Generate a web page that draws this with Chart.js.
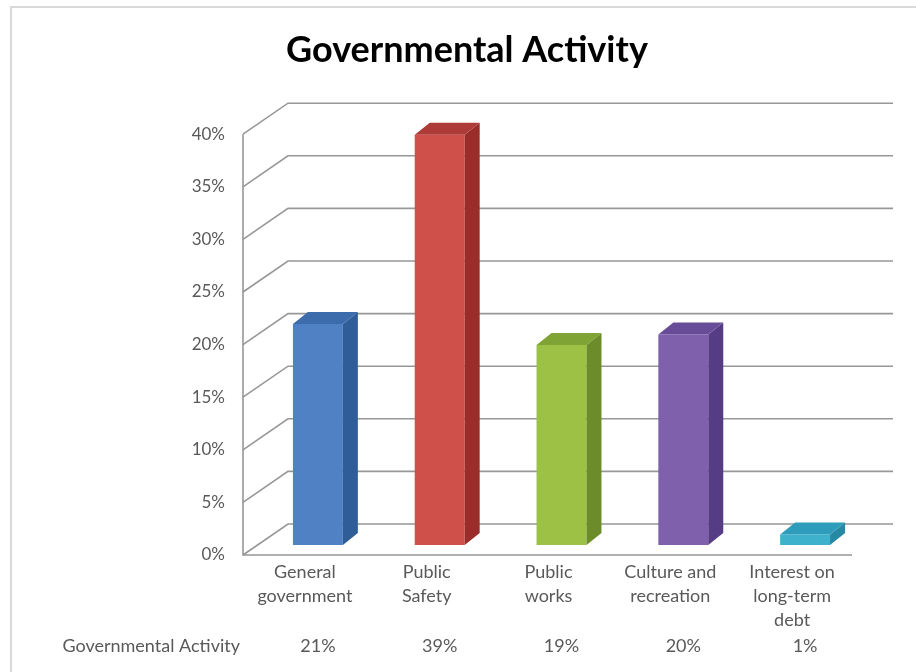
<!DOCTYPE html>
<html>
<head>
<meta charset="utf-8">
<script src="https://cdn.jsdelivr.net/npm/chart.js@4/dist/chart.umd.min.js"></script>
<style>
    body { margin: 0; background: #fff; }
    #frame { position: absolute; left: 10px; top: 6px; width: 930px; height: 700px; border: 2px solid #d9d9d9; }
    #chart { position: absolute; left: 0; top: 0; }
</style>
</head>
<body>
<div id="frame"></div>
<canvas id="chart" width="916" height="672"></canvas>
<script>
/* ---------- Data ---------- */
const categories = [
    ["General", "government"],
    ["Public", "Safety"],
    ["Public", "works"],
    ["Culture and", "recreation"],
    ["Interest on", "long-term", "debt"]
];
const seriesName = "Governmental Activity";
const values = [0.21, 0.39, 0.19, 0.20, 0.01];
const tableLabels = ["21%", "39%", "19%", "20%", "1%"];

const frontColors = ["#4f81c4", "#cf4f4a", "#9dc145", "#7e60ad", "#3eb1cd"];
const sideColors = ["#2f5d98", "#9a2c29", "#6c8c2b", "#563c85", "#2688a3"];
const topColors = ["#3c6cab", "#ad3b37", "#7fa334", "#684c98", "#2d9dbb"];

const textColor = "#595959";
const gridColor = "#979797";
const fontFamily = "Lato, 'Open Sans', sans-serif";

/* ---------- 3D geometry ---------- */
const wallShift = 10;            // front wall sits below the bar base
const wallFrontX = -14;          // front wall left edge relative to chartArea.left
const depthX = 45, depthY = -31; // wall depth
const barDX = 15, barDY = -12;   // bar depth
const wallRight = 893;
const floorRight = 852;

const threeD = {
    id: "threeD",
    beforeDatasetsDraw(chart) {
        const ctx = chart.ctx;
        const y = chart.scales.y;
        const x0 = chart.chartArea.left + wallFrontX;
        ctx.save();
        ctx.strokeStyle = gridColor;
        ctx.lineWidth = 1.6;
        y.ticks.forEach(t => {
            const yf = y.getPixelForValue(t.value) + wallShift;
            ctx.beginPath();
            ctx.moveTo(x0, yf);
            ctx.lineTo(x0 + depthX, yf + depthY);
            ctx.lineTo(wallRight, yf + depthY);
            ctx.stroke();
        });
        const yTop = y.getPixelForValue(y.max) + wallShift;
        const yBot = y.getPixelForValue(0) + wallShift;
        ctx.beginPath();
        ctx.moveTo(x0, yTop);
        ctx.lineTo(x0, yBot);
        ctx.lineTo(floorRight, yBot);
        ctx.stroke();
        ctx.restore();
    },
    afterDatasetsDraw(chart) {
        const ctx = chart.ctx;
        const meta = chart.getDatasetMeta(0);
        ctx.save();
        meta.data.forEach((bar, i) => {
            const p = bar.getProps(["x", "y", "base", "width"], true);
            const l = p.x - p.width / 2, r = p.x + p.width / 2;
            ctx.fillStyle = sideColors[i];
            ctx.beginPath();
            ctx.moveTo(r, p.y);
            ctx.lineTo(r + barDX, p.y + barDY);
            ctx.lineTo(r + barDX, p.base + barDY);
            ctx.lineTo(r, p.base);
            ctx.closePath();
            ctx.fill();
            ctx.fillStyle = topColors[i];
            ctx.beginPath();
            ctx.moveTo(l, p.y);
            ctx.lineTo(l + barDX, p.y + barDY);
            ctx.lineTo(r + barDX, p.y + barDY);
            ctx.lineTo(r, p.y);
            ctx.closePath();
            ctx.fill();
        });
        ctx.restore();
    },
    afterDraw(chart) {
        // data table row under the axis
        const ctx = chart.ctx;
        const meta = chart.getDatasetMeta(0);
        const rowY = 646;
        ctx.save();
        ctx.font = "18px " + fontFamily;
        ctx.fillStyle = textColor;
        ctx.textBaseline = "middle";
        ctx.textAlign = "right";
        ctx.fillText(seriesName, 240, rowY);
        ctx.textAlign = "center";
        meta.data.forEach((bar, i) => {
            ctx.fillText(tableLabels[i], bar.x, rowY);
        });
        ctx.restore();
    }
};

/* ---------- Chart ---------- */
new Chart(document.getElementById("chart"), {
    type: "bar",
    data: {
        labels: categories,
        datasets: [{
            label: seriesName,
            data: values,
            backgroundColor: frontColors,
            borderWidth: 0,
            barPercentage: 0.41,
            categoryPercentage: 1
        }]
    },
    options: {
        responsive: false,
        animation: false,
        layout: { padding: { left: 68, right: 50, top: 0, bottom: 0 } },
        plugins: {
            legend: { display: false },
            tooltip: { enabled: false },
            title: {
                display: true,
                text: "Governmental Activity",
                color: "#000",
                font: { family: fontFamily, size: 36, weight: "bold" },
                padding: { top: 29, bottom: 52 }
            }
        },
        scales: {
            x: {
                grid: { display: false, drawTicks: false },
                border: { display: false },
                ticks: {
                    color: textColor,
                    font: { family: fontFamily, size: 18, lineHeight: 1.333 },
                    padding: 15,
                    labelOffset: -13,
                    maxRotation: 0,
                    autoSkip: false
                },
                afterFit(scale) { scale.height = 127; }
            },
            y: {
                min: 0,
                max: 0.4,
                grid: { display: false, drawTicks: false },
                border: { display: false },
                ticks: {
                    stepSize: 0.05,
                    color: textColor,
                    font: { family: fontFamily, size: 17 },
                    padding: 32,
                    labelOffset: wallShift,
                    callback: v => Math.round(v * 100) + "%"
                },
                afterFit(scale) { scale.width = 189; }
            }
        }
    },
    plugins: [threeD]
});
</script>
</body>
</html>
